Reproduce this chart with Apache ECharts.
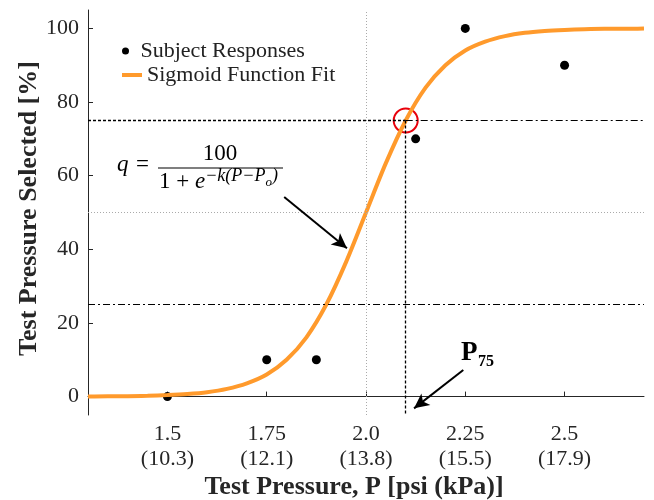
<!DOCTYPE html>
<html>
<head>
<meta charset="utf-8">
<script src="https://cdn.jsdelivr.net/npm/echarts@6/dist/echarts.min.js"></script>
<style>
html, body { margin: 0; padding: 0; background: #fff; }
#container { width: 654px; height: 500px; }
</style>
</head>
<body>
<div id="container"></div>
<script>
// subject responses
var pressures = [1.5, 1.75, 1.875, 2.125, 2.25, 2.5];
var responses = [0, 10, 10, 70, 100, 90];

// sigmoid fit
var fitP = [1.3, 1.35, 1.4, 1.45, 1.5, 1.55, 1.6, 1.65, 1.7, 1.75, 1.8, 1.85, 1.9, 1.95, 2.0,
            2.05, 2.1, 2.15, 2.2, 2.25, 2.3, 2.35, 2.4, 2.45, 2.5, 2.55, 2.6, 2.65, 2.7];
var fitQ = [0.0, 0.1, 0.1, 0.2, 0.4, 0.7, 1.2, 2.1, 3.6, 6.0, 10.0, 16.1, 25.0, 36.6, 50.0,
            63.4, 75.0, 83.9, 90.0, 94.0, 96.4, 97.9, 98.8, 99.3, 99.6, 99.8, 99.9, 99.9, 100.0];

var xTicks = [1.5, 1.75, 2.0, 2.25, 2.5];
var xTickLabels = ['1.5\n(10.3)', '1.75\n(12.1)', '2.0\n(13.8)', '2.25\n(15.5)', '2.5\n(17.9)'];
var yTicks = [0, 20, 40, 60, 80, 100];

var xMin = 1.3, xMax = 2.7, yMin = -5, yMax = 105;
var p75 = 2.1, q75 = 75, q25 = 25;
var gridP = 2.0, gridQ = 50;

var FONT = 'Liberation Serif';
var TXT = '#262626';
var ORANGE = '#ff9a2c';

var dom = document.getElementById('container');
var myChart = echarts.init(dom, null, { renderer: 'canvas' });

var dashDot = [7, 3, 2, 3];
var dense = [3, 2];

var ctx = document.createElement('canvas').getContext('2d');
function tw(str, font) { ctx.font = font; return ctx.measureText(str).width; }

// equation pieces laid end to end
function eqText(x, y, str, size, italic) {
    return {
        type: 'text', x: x, y: y, silent: true,
        style: {
            text: str, fill: '#000', fontFamily: FONT, fontSize: size,
            fontStyle: italic ? 'italic' : 'normal', verticalAlign: 'bottom'
        }
    };
}
var eq = [];
eq.push(eqText(117, 176, 'q', 23, true));
eq.push(eqText(136, 176, '=', 23, false));
eq.push({ type: 'line', silent: true, shape: { x1: 158, y1: 168, x2: 283, y2: 168 }, style: { stroke: '#000', lineWidth: 1.2 } });
eq.push({ type: 'text', x: 220, y: 165, silent: true,
    style: { text: '100', fill: '#000', fontFamily: FONT, fontSize: 23, align: 'center', verticalAlign: 'bottom' } });
var dx = 159;
var parts = [
    ['1 + ', 23, false, 193],
    ['e', 23, true, 193],
    ['\u2212k(P\u2212P', 18, true, 185],
    ['o', 13, true, 189],
    [')', 18, true, 185]
];
parts.forEach(function (p) {
    eq.push(eqText(dx, p[3], p[0], p[1], p[2]));
    dx += tw(p[0], (p[2] ? 'italic ' : '') + p[1] + 'px ' + FONT);
});

var legendText = { fontFamily: FONT, fontSize: 22, color: '#222' };

option = {
    animation: false,
    grid: { left: 88, right: 10, top: 10, bottom: 85, containLabel: false, outerBoundsMode: 'none' },
    legend: [
        {
            left: 117, top: 35,
            itemWidth: 20, itemHeight: 7,
            selectedMode: false,
            textStyle: legendText,
            data: [{ name: 'Subject Responses', icon: 'circle' }]
        },
        {
            left: 117, top: 59,
            itemWidth: 20, itemHeight: 4,
            selectedMode: false,
            textStyle: legendText,
            data: [{ name: 'Sigmoid Function Fit', icon: 'rect' }]
        }
    ],
    xAxis: {
        type: 'value',
        min: xMin,
        max: xMax,
        name: 'Test Pressure, P [psi (kPa)]',
        nameLocation: 'middle',
        nameGap: 59,
        nameMoveOverlap: false,
        nameTextStyle: { fontFamily: FONT, fontWeight: 'bold', fontSize: 26, color: TXT, padding: [0, 24, 0, 0] },
        axisLine: { lineStyle: { color: TXT, width: 1 } },
        axisTick: { inside: true, length: 5, customValues: xTicks, lineStyle: { color: TXT } },
        axisLabel: {
            customValues: xTicks,
            fontFamily: FONT, fontSize: 22, color: TXT, lineHeight: 25, margin: 7,
            formatter: function (v) {
                for (var i = 0; i < xTicks.length; i++) {
                    if (Math.abs(xTicks[i] - v) < 1e-6) return xTickLabels[i];
                }
                return '';
            }
        },
        splitLine: { show: false }
    },
    yAxis: {
        type: 'value',
        min: yMin,
        max: yMax,
        name: 'Test Pressure Selected [%]',
        nameLocation: 'middle',
        nameGap: 46,
        nameMoveOverlap: false,
        nameTextStyle: { fontFamily: FONT, fontWeight: 'bold', fontSize: 26, color: TXT, padding: [0, 0, 0, 8] },
        axisLine: { show: true, lineStyle: { color: TXT, width: 1 } },
        axisTick: { show: true, inside: true, length: 5, customValues: yTicks, lineStyle: { color: TXT } },
        axisLabel: { customValues: yTicks, fontFamily: FONT, fontSize: 22, color: TXT, margin: 9 },
        splitLine: { show: false }
    },
    series: [
        {
            // reference lines
            type: 'line',
            data: [],
            silent: true,
            markLine: {
                silent: true,
                symbol: ['none', 'none'],
                label: { show: false },
                emphasis: { disabled: true },
                data: [
                    [{ coord: [gridP, yMin], lineStyle: { color: '#aaa', width: 1, type: [1, 2] } }, { coord: [gridP, yMax] }],
                    [{ coord: [xMin, gridQ], lineStyle: { color: '#aaa', width: 1, type: [1, 2] } }, { coord: [xMax, gridQ] }],
                    [{ coord: [xMin, q25], lineStyle: { color: '#000', width: 1, type: dashDot } }, { coord: [xMax, q25] }],
                    [{ coord: [p75, q75], lineStyle: { color: '#000', width: 1, type: dashDot } }, { coord: [xMax, q75] }],
                    [{ coord: [xMin, q75], lineStyle: { color: '#000', width: 1.3, type: dense } }, { coord: [p75, q75] }],
                    [{ coord: [p75, q75], lineStyle: { color: '#000', width: 1.3, type: dense } }, { coord: [p75, yMin] }]
                ]
            }
        },
        {
            name: 'Sigmoid Function Fit',
            type: 'line',
            data: fitP.map(function (p, i) { return [p, fitQ[i]]; }),
            smooth: 0.3,
            symbol: 'none',
            lineStyle: { color: ORANGE, width: 4 },
            itemStyle: { color: ORANGE },
            silent: true
        },
        {
            name: 'Subject Responses',
            type: 'scatter',
            data: pressures.map(function (p, i) { return [p, responses[i]]; }),
            symbolSize: 9,
            itemStyle: { color: '#000', opacity: 1 },
            silent: true
        },
        {
            // circle around P75
            type: 'scatter',
            data: [[p75, q75]],
            symbolSize: 24,
            itemStyle: { color: 'rgba(0,0,0,0)', borderColor: '#e8000b', borderWidth: 2, opacity: 1 },
            silent: true
        },
        {
            // annotation arrows
            type: 'line',
            data: [],
            silent: true,
            markLine: {
                silent: true,
                symbol: ['none', 'arrow'],
                symbolSize: [11, 15],
                label: { show: false },
                lineStyle: { color: '#000', width: 2, type: 'solid' },
                data: [
                    [{ coord: [1.794, 54.2] }, { coord: [1.952, 40.3] }],
                    [{ coord: [2.245, 7.2] }, { coord: [2.121, -3.2] }]
                ]
            }
        }
    ],
    graphic: eq.concat([
        { type: 'text', x: 461, y: 367, silent: true,
          style: { text: 'P', fill: '#000', fontFamily: FONT, fontWeight: 'bold', fontSize: 27, verticalAlign: 'bottom' } },
        { type: 'text', x: 478, y: 370, silent: true,
          style: { text: '75', fill: '#000', fontFamily: FONT, fontWeight: 'bold', fontSize: 16, verticalAlign: 'bottom' } }
    ])
};

if (option && typeof option === 'object') {
    myChart.setOption(option, true);
}
</script>
</body>
</html>
